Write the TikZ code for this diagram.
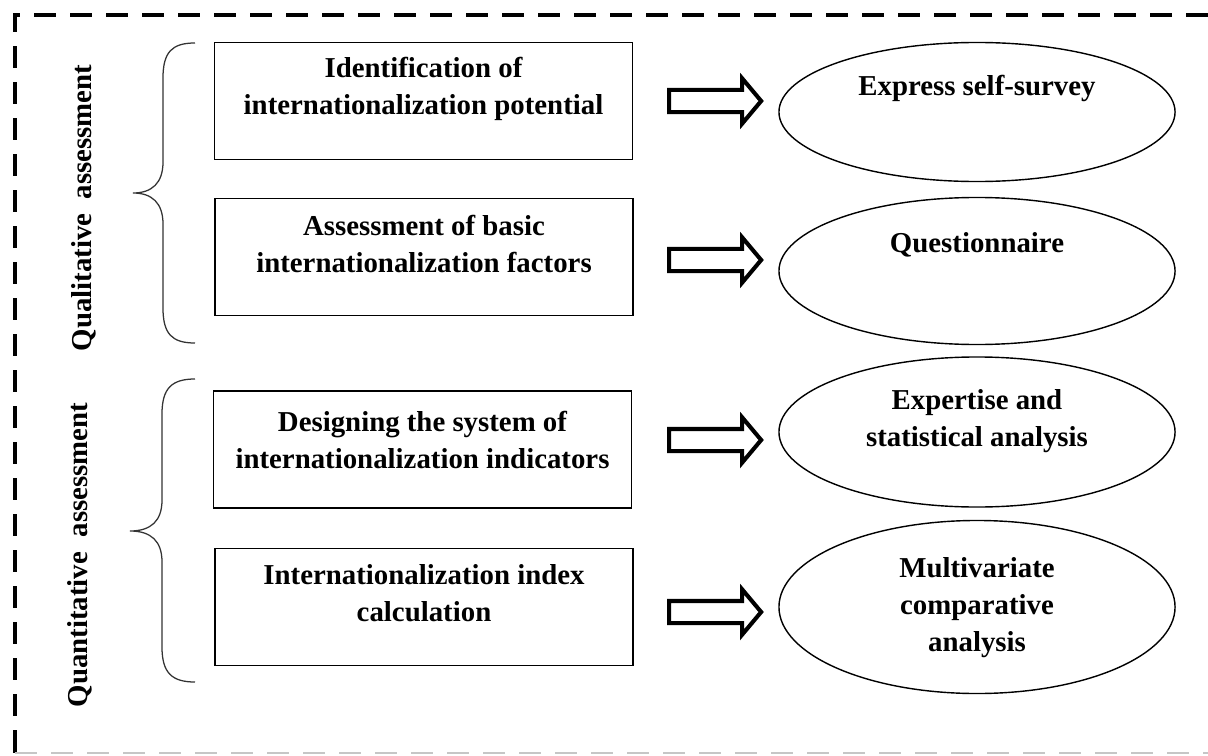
\documentclass[tikz,border=0pt]{standalone}
\usepackage{fontspec}
\setmainfont{Liberation Serif}
\usetikzlibrary{shapes.geometric,shapes.arrows}
\tikzset{
    box/.style={rectangle, draw, line width=1.3pt, minimum width=10.45cm, minimum height=2.925cm, inner sep=0},
    oval/.style={ellipse, draw, line width=1pt, minimum width=9.9cm, inner sep=0},
    txt/.style={align=center, font=\fontsize{20.5}{26.3}\selectfont\bfseries, inner sep=0},
    side/.style={txt, rotate=90},
    fat/.style={single arrow, draw, line width=2.9pt, inner xsep=0, inner ysep=2.25mm,
                minimum height=2.3cm, single arrow head extend=2.9mm, single arrow tip angle=100},
    brace/.style={line width=0.9pt, black!80},
    frame/.style={line width=2.4pt, dash pattern=on 5.5mm off 3.5mm},
  }

\begin{document}
\begin{tikzpicture}[x=0.025cm, y=-0.025cm]
  \useasboundingbox (0,0) rectangle (1208,755);

  % frame
  \draw[frame] (1208,15) -- (15,15) -- (15,755);
  \draw[frame, gray!45, line width=1.4pt] (15,753) -- (1208,753);

  % left column
  \node (b1) [box] at (423.5,101) {};
  \node (b2) [box] at (424,257) {};
  \node (b3) [box] at (422.5,449.5) {};
  \node (b4) [box] at (424,607) {};
  \node (t1) [txt] at (423.5,88.5) {Identification of\\internationalization potential};
  \node (t2) [txt] at (424,243.5) {Assessment of basic\\internationalization factors};
  \node (t3) [txt] at (422.5,440) {Designing the system of\\internationalization indicators};
  \node (t4) [txt] at (424,593.5) {Internationalization index\\calculation};

  % right column
  \node (e1) [oval, minimum height=3.475cm] at (977,112) {};
  \node (e2) [oval, minimum height=3.675cm] at (977,271) {};
  \node (e3) [oval, minimum height=3.75cm] at (977,432) {};
  \node (e4) [oval, minimum height=4.325cm] at (977,607) {};
  \node (u1) [txt] at (977,88) {Express self-survey};
  \node (u2) [txt] at (977,245) {Questionnaire};
  \node (u3) [txt] at (977,421.5) {Expertise and\\statistical analysis};
  \node (u4) [txt] at (977,607.5) {Multivariate\\comparative\\analysis};

  % block arrows
  \foreach \n/\y in {1/101, 2/260, 3/440, 4/612}
    \node (a\n) [fat] at (710.5,\y) {};

  % braces and side labels
  \draw[brace] (195,43) .. controls (172,43) and (163,52) .. (163,78) -- (163,162)
     .. controls (163,183) and (152,193) .. (133,193)
     .. controls (152,193) and (163,203) .. (163,224) -- (163,308)
     .. controls (163,334) and (172,343) .. (195,343);
  \draw[brace] (195,379) .. controls (172,379) and (162,388) .. (162,414) -- (162,500)
     .. controls (162,521) and (151,531) .. (130,531)
     .. controls (151,531) and (162,541) .. (162,562) -- (162,647)
     .. controls (162,673) and (172,682) .. (195,682);
  \node (qual) [side] at (84,208) {Qualitative\ \ assessment};
  \node (quant) [side] at (80,555) {Quantitative\ \ assessment};
\end{tikzpicture}
\end{document}
